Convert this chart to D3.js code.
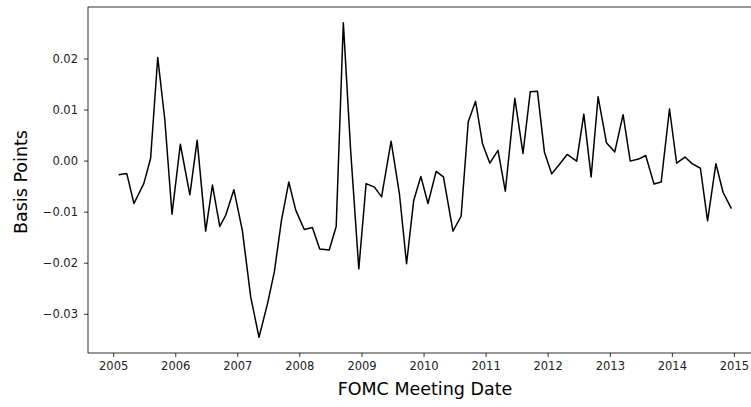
<!DOCTYPE html>
<html>
<head>
<meta charset="utf-8">
<script src="https://cdn.jsdelivr.net/npm/d3@7"></script>
<style>
  html, body { margin: 0; padding: 0; background: #fff; overflow: hidden; }
  svg { display: block; }
</style>
</head>
<body>
<svg id="chart" width="751" height="407"></svg>
<script>
// FOMC scheduled meeting dates (2005–2014)
const meetingDates = [
  "2005-02-02","2005-03-22","2005-05-03","2005-06-30","2005-08-09","2005-09-20","2005-11-01","2005-12-13",
  "2006-01-31","2006-03-28","2006-05-10","2006-06-29","2006-08-08","2006-09-20","2006-10-25","2006-12-12",
  "2007-01-31","2007-03-21","2007-05-09","2007-06-28","2007-08-07","2007-09-18","2007-10-31","2007-12-11",
  "2008-01-30","2008-03-18","2008-04-30","2008-06-25","2008-08-05","2008-09-16","2008-10-29","2008-12-16",
  "2009-01-28","2009-03-18","2009-04-29","2009-06-24","2009-08-12","2009-09-23","2009-11-04","2009-12-16",
  "2010-01-27","2010-03-16","2010-04-28","2010-06-23","2010-08-10","2010-09-21","2010-11-03","2010-12-14",
  "2011-01-26","2011-03-15","2011-04-27","2011-06-22","2011-08-09","2011-09-21","2011-11-02","2011-12-13",
  "2012-01-25","2012-03-13","2012-04-25","2012-06-20","2012-08-01","2012-09-13","2012-10-24","2012-12-12",
  "2013-01-30","2013-03-20","2013-05-01","2013-06-19","2013-07-31","2013-09-18","2013-10-30","2013-12-18",
  "2014-01-29","2014-03-19","2014-04-30","2014-06-18","2014-07-30","2014-09-17","2014-10-29","2014-12-17"
];

// Basis point values
const basisPoints = [
  -0.00275, -0.00255, -0.0084, -0.0045, 0.0004, 0.0202, 0.0079, -0.0105,
  0.0032, -0.0067, 0.0040, -0.0138, -0.0048, -0.0129, -0.0107, -0.0057,
  -0.0137, -0.0267, -0.0346, -0.0280, -0.0218, -0.0117, -0.0042, -0.0097,
  -0.0135, -0.0131, -0.0173, -0.0175, -0.0129, 0.0270, 0.0020, -0.0212,
  -0.0045, -0.0052, -0.0071, 0.0038, -0.0065, -0.0202, -0.0078, -0.0031,
  -0.0084, -0.0021, -0.0032, -0.0138, -0.0109, 0.0076, 0.0116, 0.0033,
  -0.0005, 0.0020, -0.0060, 0.0122, 0.0014, 0.0135, 0.0136, 0.0017,
  -0.0026, -0.0006, 0.0012, -0.0001, 0.0091, -0.0032, 0.0125, 0.0035,
  0.0017, 0.0090, -0.0001, 0.0003, 0.0010, -0.0046, -0.0042, 0.0101,
  -0.0005, 0.0007, -0.0006, -0.0015, -0.0118, -0.0006, -0.0062, -0.0094
];

const yTickValues = [-0.03, -0.02, -0.01, 0.00, 0.01, 0.02];
const xTickYears = [2005, 2006, 2007, 2008, 2009, 2010, 2011, 2012, 2013, 2014, 2015];

const xLabel = "FOMC Meeting Date";
const yLabel = "Basis Points";

const parse = d3.utcParse("%Y-%m-%d");
const data = meetingDates.map((d, i) => ({ date: parse(d), value: basisPoints[i] }));

const svg = d3.select("#chart");
const margin = { left: 88, top: 7, right: -11, bottom: 54 };
const W = 751, H = 407;
const plotW = W - margin.left - margin.right;
const plotH = H - margin.top - margin.bottom;

// matplotlib-like 5% margins
const xExt = d3.extent(data, d => d.date);
const xSpan = xExt[1] - xExt[0];
const x = d3.scaleUtc()
  .domain([new Date(+xExt[0] - 0.05 * xSpan), new Date(+xExt[1] + 0.05 * xSpan)])
  .range([0, plotW]);

const yExt = d3.extent(data, d => d.value);
const ySpan = yExt[1] - yExt[0];
const y = d3.scaleLinear()
  .domain([yExt[0] - 0.05 * ySpan, yExt[1] + 0.05 * ySpan])
  .range([plotH, 0]);

const g = svg.append("g").attr("transform", `translate(${margin.left},${margin.top})`);

// line
const line = d3.line().x(d => x(d.date)).y(d => y(d.value));
g.append("path")
  .datum(data)
  .attr("fill", "none")
  .attr("stroke", "#000")
  .attr("stroke-width", 1.5)
  .attr("stroke-linejoin", "round")
  .attr("d", line);

// axes
const fmtY = v => (v < 0 ? "\u2212" : "") + Math.abs(v).toFixed(2);
const yAxis = d3.axisLeft(y).tickValues(yTickValues).tickSize(4).tickPadding(6).tickFormat(fmtY);
const xAxis = d3.axisBottom(x)
  .tickValues(xTickYears.map(yr => new Date(Date.UTC(yr, 0, 1))))
  .tickSize(4).tickPadding(5)
  .tickFormat(d3.utcFormat("%Y"));

const gy = g.append("g").call(yAxis);
const gx = g.append("g").attr("transform", `translate(0,${plotH})`).call(xAxis);

[gx, gy].forEach(ax => {
  ax.select(".domain").remove();
  ax.selectAll(".tick line").attr("stroke", "#000").attr("stroke-width", 0.8);
  ax.selectAll(".tick text")
    .attr("fill", "#222")
    .style("font-family", "'DejaVu Sans', sans-serif")
    .style("font-size", "11.5px");
});

// frame (spines)
g.append("rect")
  .attr("x", 0).attr("y", 0)
  .attr("width", plotW).attr("height", plotH)
  .attr("fill", "none")
  .attr("stroke", "#000")
  .attr("stroke-width", 0.8);

// axis labels
svg.append("text")
  .attr("x", 425)
  .attr("y", 395)
  .attr("text-anchor", "middle")
  .style("font-family", "'DejaVu Sans', sans-serif")
  .style("font-size", "17.5px")
  .attr("fill", "#000")
  .text(xLabel);

svg.append("text")
  .attr("transform", `translate(26.5,${margin.top + plotH / 2 + 2}) rotate(-90)`)
  .attr("text-anchor", "middle")
  .style("font-family", "'DejaVu Sans', sans-serif")
  .style("font-size", "17.5px")
  .attr("fill", "#000")
  .text(yLabel);
</script>
</body>
</html>
